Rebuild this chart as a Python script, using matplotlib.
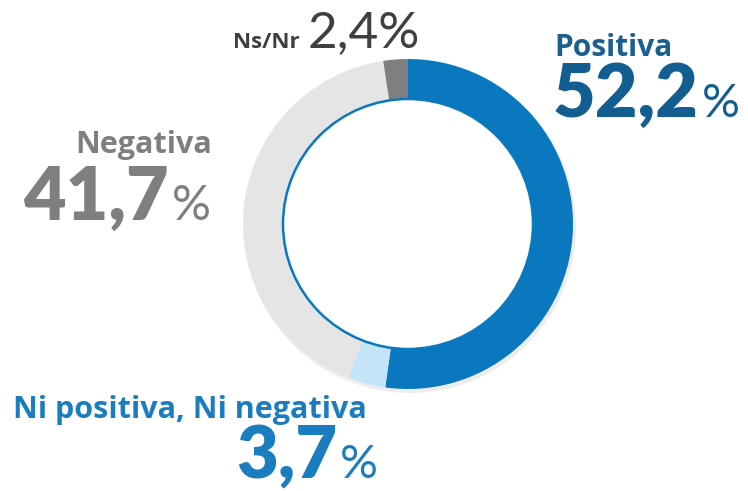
import matplotlib
matplotlib.use('Agg')
import matplotlib.pyplot as plt
from matplotlib.patches import Circle

W, H = 748, 491

labels = ['Positiva', 'Ni positiva, Ni negativa', 'Negativa', 'Ns/Nr']
values = [52.2, 3.7, 41.7, 2.4]
value_text = ['52,2', '3,7', '41,7', '2,4']
colors = ['#0a78be', '#c3e5f7', '#e5e5e5', '#7f7f7f']

CX, CY = 408, 224
R_OUT, R_IN = 165, 125
FONT = 'Lato'
LFONT = 'Open Sans'

fig = plt.figure(figsize=(W / 100, H / 100), dpi=100)
ax = fig.add_axes([0, 0, 1, 1])
ax.set_xlim(0, W)
ax.set_ylim(0, H)
ax.set_aspect('equal')
ax.axis('off')

# faint shadow under the ring
ax.add_patch(Circle((CX + 2, H - CY - 3), R_OUT + 1, color='black', alpha=0.07, lw=0))
ax.pie(values, colors=colors, startangle=90, counterclock=False,
       radius=R_OUT, center=(CX, H - CY),
       wedgeprops=dict(width=R_OUT - R_IN, linewidth=0))
ax.set_xlim(0, W)
ax.set_ylim(0, H)
ax.add_patch(Circle((CX, H - CY), R_IN, facecolor='white',
                    edgecolor='#0a78be', lw=1.8, zorder=5))

r = fig.canvas.get_renderer()


def pair(x, y, num, color, size, psize, ha='left', nweight='heavy', pweight='normal', gap=3):
    y = H - y
    if ha == 'left':
        t = ax.text(x, y, num, color=color, fontsize=size, fontweight=nweight,
                    family=FONT, ha='left', va='baseline')
        bb = t.get_window_extent(r).transformed(ax.transData.inverted())
        ax.text(bb.x1 + gap, y, '%', color=color, fontsize=psize, fontweight=pweight,
                family=FONT, ha='left', va='baseline')
    else:
        p = ax.text(x, y, '%', color=color, fontsize=psize, fontweight=pweight,
                    family=FONT, ha='right', va='baseline')
        bb = p.get_window_extent(r).transformed(ax.transData.inverted())
        ax.text(bb.x0 - gap, y, num, color=color, fontsize=size, fontweight=nweight,
                family=FONT, ha='right', va='baseline')


def label(x, y, s, color, size, ha='left'):
    return ax.text(x, H - y, s, color=color, fontsize=size, fontweight='bold',
                   family=LFONT, ha=ha, va='baseline')


# Positiva
label(554, 56, labels[0], '#1b5f8e', 21.5)
pair(553, 117, value_text[0], '#135e91', 53, 34)

# Ni positiva, Ni negativa
label(13, 418, labels[1], '#1a7dc0', 22)
pair(378, 478, value_text[1], '#1a7dc0', 52, 34, ha='right')

# Negativa
label(212, 153, labels[2], '#7f7f7f', 22, ha='right')
pair(211, 220, value_text[2], '#7f7f7f', 53, 35, ha='right')

# Ns/Nr
t = label(233, 48, labels[3], '#3f3f3f', 16)
bb = t.get_window_extent(r).transformed(ax.transData.inverted())
ax.text(bb.x1 + 8, H - 47, value_text[3] + '%', color='#3f3f3f', fontsize=37,
        fontweight='normal', family=FONT, ha='left', va='baseline')

fig.savefig('out.png', dpi=100)
